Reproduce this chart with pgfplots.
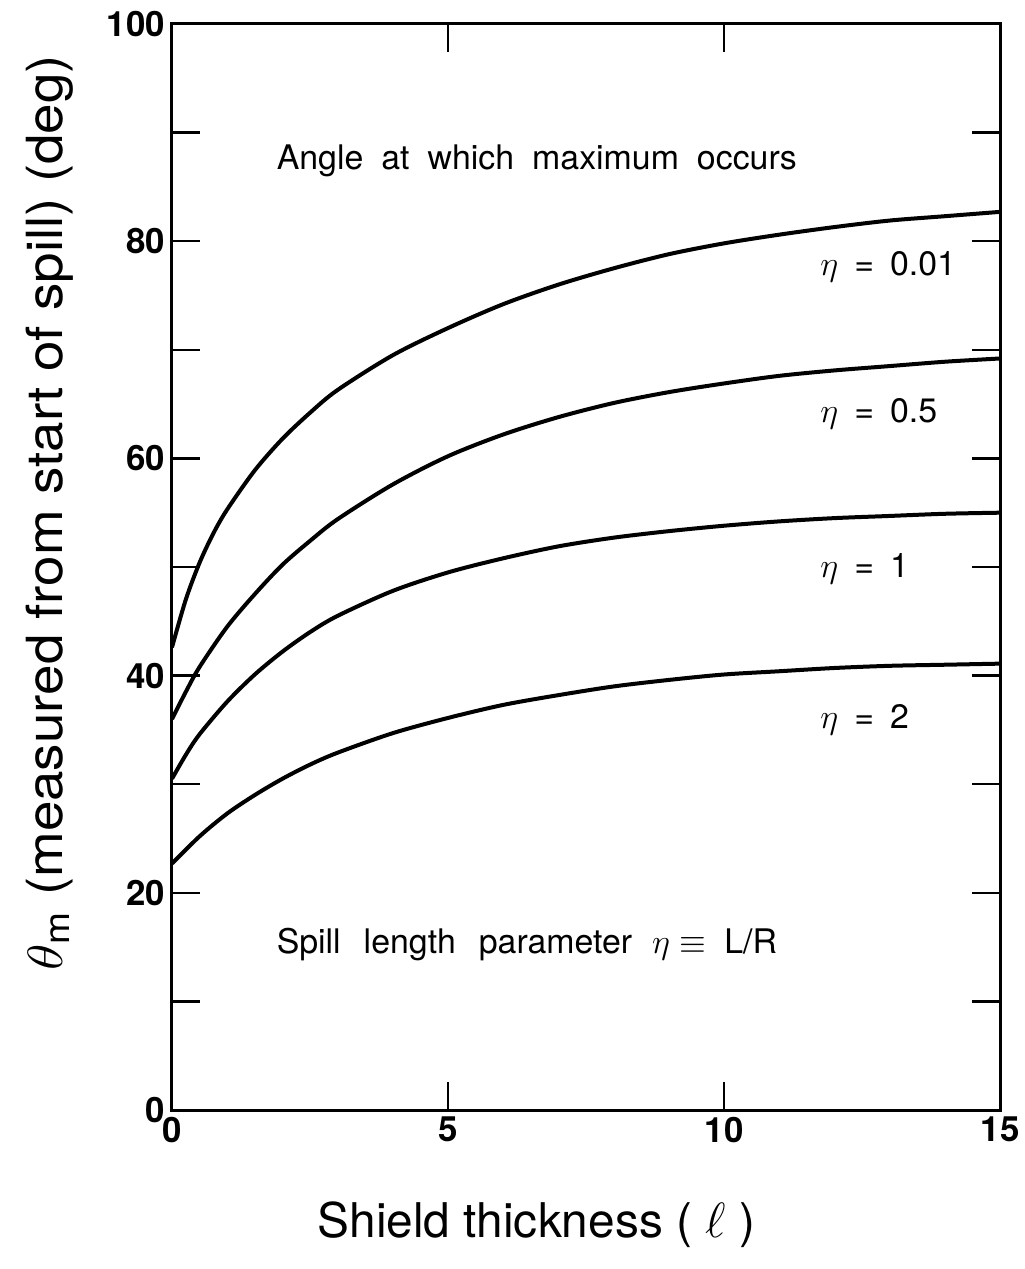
\documentclass[border=0pt]{standalone}
\usepackage{fontspec}
\setmainfont{TeX Gyre Heros}
\usepackage{pgfplots}
\pgfplotsset{compat=1.18}
\pgfplotstableread{
x y
0 42.6
0.25 47.0
0.5 50.4
0.75 53.1
1 55.3
1.5 58.9
2 61.8
2.5 64.2
3 66.3
4 69.5
5 72.0
6 74.2
7 76.0
8 77.5
9 78.8
10 79.8
11 80.6
12 81.3
13 81.9
14 82.3
15 82.7
}\etaA
\pgfplotstableread{
x y
0 36.0
0.25 38.5
0.5 40.8
1 44.5
1.5 47.5
2 50.2
2.5 52.4
3 54.4
4 57.6
5 60.2
6 62.2
7 63.8
8 65.1
9 66.1
10 66.9
11 67.6
12 68.1
13 68.5
14 68.9
15 69.2
}\etaB
\pgfplotstableread{
x y
0 30.5
0.25 32.7
0.5 34.6
1 37.6
1.5 40.1
2 42.2
2.5 44.0
3 45.5
4 47.8
5 49.5
6 50.8
7 51.9
8 52.7
9 53.3
10 53.8
11 54.2
12 54.5
13 54.7
14 54.9
15 55.0
}\etaC
\pgfplotstableread{
x y
0 22.7
0.5 25.2
1 27.3
1.5 29.0
2 30.5
2.5 31.8
3 32.9
4 34.7
5 36.1
6 37.3
7 38.2
8 39.0
9 39.6
10 40.1
11 40.4
12 40.7
13 40.9
14 41.0
15 41.1
}\etaD
\begin{document}
\begin{tikzpicture}
\begin{axis}[
  scale only axis, width=414bp, height=543bp,
  xmin=0, xmax=15, ymin=0, ymax=100,
  xtick={0,5,10,15},
  ytick={0,20,...,100}, minor ytick={10,30,...,90},
  tick align=inside, major tick length=14bp, minor tick length=14bp,
  tick style={line width=1.2bp, black},
  axis line style={line width=1.5bp},
  every tick label/.append style={font=\fontsize{17.5}{20}\bfseries\selectfont},
  /pgf/number format/assume math mode=true,
  xlabel={Shield thickness ( $\ell$ )},
  xlabel style={font=\fontsize{24}{28}\selectfont, at={(axis description cs:0.44,-0.106)}, anchor=center},
  ylabel={\scalebox{1.1}[1]{$\theta$\textsubscript{m} (measured from start of spill) (deg)}},
  ylabel style={font=\fontsize{25}{28}\selectfont, at={(axis description cs:-0.148,0.55)}, anchor=center},
  clip=false,
]
\addplot[black, line width=2bp, smooth] table {\etaA};
\addplot[black, line width=2bp, smooth] table {\etaB};
\addplot[black, line width=2bp, smooth] table {\etaC};
\addplot[black, line width=2bp, smooth] table {\etaD};
\begin{scope}[every node/.style={font=\fontsize{17}{20}\selectfont, inner sep=0pt}]
\node[anchor=center] at (axis cs:6.61,87.4) {\spaceskip=9bp\relax Angle at which maximum occurs};
\node[anchor=center] at (axis cs:6.43,15.2) {\spaceskip=11.5bp\relax Spill length parameter\hspace{10bp}$\eta\equiv$\hspace{9bp}L/R};
\node[anchor=west] at (axis cs:11.74,77.6) {\spaceskip=8bp\relax $\eta$ = 0.01};
\node[anchor=west] at (axis cs:11.74,64.1) {\spaceskip=8bp\relax $\eta$ = 0.5};
\node[anchor=west] at (axis cs:11.74,49.8) {\spaceskip=8bp\relax $\eta$ = 1};
\node[anchor=west] at (axis cs:11.74,35.9) {\spaceskip=8bp\relax $\eta$ = 2};
\end{scope}
\end{axis}
\pgfresetboundingbox
\path[use as bounding box] (-86bp,-79.5bp) rectangle (426.5bp,555bp);
\end{tikzpicture}
\end{document}
